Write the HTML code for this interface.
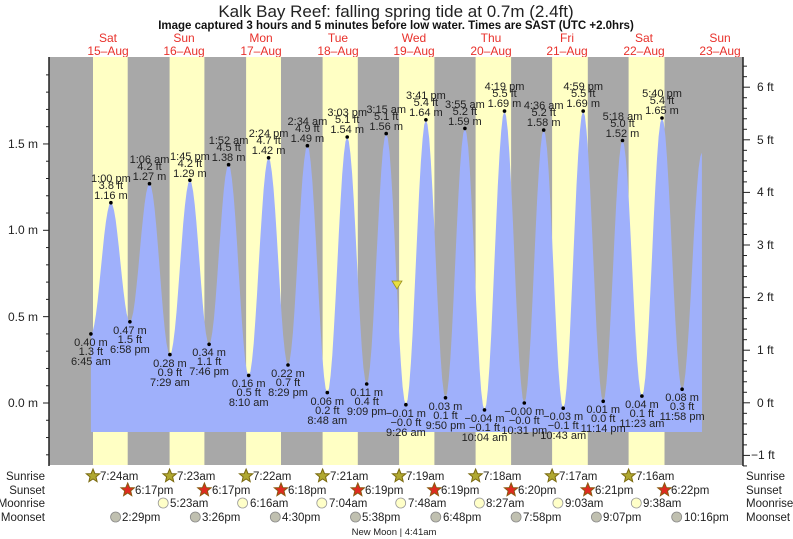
<!DOCTYPE html>
<html><head><meta charset="utf-8"><style>
html,body{margin:0;padding:0;background:#fff;}
svg{display:block;font-family:"Liberation Sans",Arial,sans-serif;}
.t{font-size:11px;fill:#222;text-anchor:middle;}
.d{font-size:12px;fill:#e8312b;text-anchor:middle;}
.a{font-size:12px;fill:#222;}
.r{font-size:11.5px;fill:#222;}
</style></head><body>
<svg id="s" width="793" height="539" viewBox="0 0 793 539" xmlns="http://www.w3.org/2000/svg">
<defs>
<polygon id="star" points="0,-7 1.9,-2.4 6.7,-2.2 3,0.9 4.1,5.7 0,3 -4.1,5.7 -3,0.9 -6.7,-2.2 -1.9,-2.4"/>
</defs>
<text x="396" y="17" style="font-size:17px;fill:#222" text-anchor="middle">Kalk Bay Reef: falling  spring tide at 0.7m (2.4ft)</text>
<text x="396" y="29" style="font-size:11.5px;font-weight:bold;fill:#111" text-anchor="middle">Image captured 3 hours and 5 minutes before low water. Times are SAST (UTC +2.0hrs)</text>
<g class="d">
<text x="108" y="42">Sat</text><text x="108" y="55">15–Aug</text>
<text x="184" y="42">Sun</text><text x="184" y="55">16–Aug</text>
<text x="261" y="42">Mon</text><text x="261" y="55">17–Aug</text>
<text x="338" y="42">Tue</text><text x="338" y="55">18–Aug</text>
<text x="414" y="42">Wed</text><text x="414" y="55">19–Aug</text>
<text x="491" y="42">Thu</text><text x="491" y="55">20–Aug</text>
<text x="567" y="42">Fri</text><text x="567" y="55">21–Aug</text>
<text x="644" y="42">Sat</text><text x="644" y="55">22–Aug</text>
<text x="720" y="42">Sun</text><text x="720" y="55">23–Aug</text>
</g>
<rect x="49" y="57" width="694" height="408" fill="#a8a8a8"/>
<g fill="#ffffc4">
<rect x="93" y="57" width="34.7" height="408"/>
<rect x="169.6" y="57" width="34.8" height="408"/>
<rect x="246.1" y="57" width="34.9" height="408"/>
<rect x="322.6" y="57" width="35.2" height="408"/>
<rect x="399.1" y="57" width="35.3" height="408"/>
<rect x="475.6" y="57" width="35.5" height="408"/>
<rect x="552.1" y="57" width="35.7" height="408"/>
<rect x="628.6" y="57" width="35.9" height="408"/>
</g>
<path id="tide" fill="#9fb0fb" d=""/>
<polygon points="392,281 402,281 397,289" fill="#e8e040" stroke="#9a9020" stroke-width="0.8"/>
<line x1="49" y1="57" x2="49" y2="466" stroke="#222" stroke-width="1.5"/>
<line x1="743" y1="57" x2="743" y2="466" stroke="#222" stroke-width="1.5"/>
<g id="ticks" stroke="#222" stroke-width="1"></g>
<g class="a" text-anchor="end">
<text x="38" y="148">1.5 m</text><text x="38" y="234">1.0 m</text><text x="38" y="321">0.5 m</text><text x="38" y="407">0.0 m</text>
</g>
<g class="a">
<text x="757" y="91">6 ft</text><text x="757" y="144">5 ft</text><text x="757" y="196">4 ft</text><text x="757" y="249">3 ft</text><text x="757" y="301">2 ft</text><text x="757" y="354">1 ft</text><text x="757" y="407">0 ft</text><text x="751" y="459">−1 ft</text>
</g>
<g id="dots" fill="#000"></g>
<g class="t">
<text x="110.9" y="182">1:00 pm</text><text x="110.9" y="189">3.8 ft</text><text x="110.9" y="199">1.16 m</text>
<text x="149.5" y="163">1:06 am</text><text x="149.5" y="170">4.2 ft</text><text x="149.5" y="180">1.27 m</text>
<text x="189.9" y="160">1:45 pm</text><text x="189.9" y="167">4.2 ft</text><text x="189.9" y="177">1.29 m</text>
<text x="228.6" y="144">1:52 am</text><text x="228.6" y="151">4.5 ft</text><text x="228.6" y="161">1.38 m</text>
<text x="268.6" y="137">2:24 pm</text><text x="268.6" y="144">4.7 ft</text><text x="268.6" y="154">1.42 m</text>
<text x="307.4" y="125">2:34 am</text><text x="307.4" y="132">4.9 ft</text><text x="307.4" y="142">1.49 m</text>
<text x="347.2" y="116">3:03 pm</text><text x="347.2" y="123">5.1 ft</text><text x="347.2" y="133">1.54 m</text>
<text x="386.2" y="113">3:15 am</text><text x="386.2" y="120">5.1 ft</text><text x="386.2" y="130">1.56 m</text>
<text x="425.9" y="99">3:41 pm</text><text x="425.9" y="106">5.4 ft</text><text x="425.9" y="116">1.64 m</text>
<text x="464.9" y="108">3:55 am</text><text x="464.9" y="115">5.2 ft</text><text x="464.9" y="125">1.59 m</text>
<text x="504.5" y="90">4:19 pm</text><text x="504.5" y="97">5.5 ft</text><text x="504.5" y="107">1.69 m</text>
<text x="543.7" y="109">4:36 am</text><text x="543.7" y="116">5.2 ft</text><text x="543.7" y="126">1.58 m</text>
<text x="583.2" y="90">4:59 pm</text><text x="583.2" y="97">5.5 ft</text><text x="583.2" y="107">1.69 m</text>
<text x="622.5" y="120">5:18 am</text><text x="622.5" y="127">5.0 ft</text><text x="622.5" y="137">1.52 m</text>
<text x="662" y="97">5:40 pm</text><text x="662" y="104">5.4 ft</text><text x="662" y="114">1.65 m</text>

<text x="90.9" y="346">0.40 m</text><text x="90.9" y="355">1.3 ft</text><text x="90.9" y="365">6:45 am</text>
<text x="129.9" y="334">0.47 m</text><text x="129.9" y="343">1.5 ft</text><text x="129.9" y="353">6:58 pm</text>
<text x="169.9" y="367">0.28 m</text><text x="169.9" y="376">0.9 ft</text><text x="169.9" y="386">7:29 am</text>
<text x="209.1" y="356">0.34 m</text><text x="209.1" y="365">1.1 ft</text><text x="209.1" y="375">7:46 pm</text>
<text x="248.7" y="387">0.16 m</text><text x="248.7" y="396">0.5 ft</text><text x="248.7" y="406">8:10 am</text>
<text x="288" y="377">0.22 m</text><text x="288" y="386">0.7 ft</text><text x="288" y="396">8:29 pm</text>
<text x="327.3" y="405">0.06 m</text><text x="327.3" y="414">0.2 ft</text><text x="327.3" y="424">8:48 am</text>
<text x="366.7" y="396">0.11 m</text><text x="366.7" y="405">0.4 ft</text><text x="366.7" y="415">9:09 pm</text>
<text x="405.9" y="417">−0.01 m</text><text x="405.9" y="426">−0.0 ft</text><text x="405.9" y="436">9:26 am</text>
<text x="445.5" y="410">0.03 m</text><text x="445.5" y="419">0.1 ft</text><text x="445.5" y="429">9:50 pm</text>
<text x="484.5" y="422">−0.04 m</text><text x="484.5" y="431">−0.1 ft</text><text x="484.5" y="441">10:04 am</text>
<text x="524.3" y="415">−0.00 m</text><text x="524.3" y="424">−0.0 ft</text><text x="524.3" y="434">10:31 pm</text>
<text x="563.2" y="420">−0.03 m</text><text x="563.2" y="429">−0.1 ft</text><text x="563.2" y="439">10:43 am</text>
<text x="603.2" y="413">0.01 m</text><text x="603.2" y="422">0.0 ft</text><text x="603.2" y="432">11:14 pm</text>
<text x="641.9" y="408">0.04 m</text><text x="641.9" y="417">0.1 ft</text><text x="641.9" y="427">11:23 am</text>
<text x="682.1" y="401">0.08 m</text><text x="682.1" y="410">0.3 ft</text><text x="682.1" y="420">11:58 pm</text>
</g>
<g class="r" text-anchor="end">
<text x="45" y="480">Sunrise</text><text x="45" y="494">Sunset</text><text x="45" y="507">Moonrise</text><text x="45" y="521">Moonset</text>
</g>
<g class="r">
<text x="746" y="480">Sunrise</text><text x="746" y="494">Sunset</text><text x="746" y="507">Moonrise</text><text x="746" y="521">Moonset</text>
</g>
<g id="icons"></g>
<g class="r">
<text x="100" y="480">7:24am</text><text x="177" y="480">7:23am</text><text x="253" y="480">7:22am</text><text x="330" y="480">7:21am</text><text x="406" y="480">7:19am</text><text x="483" y="480">7:18am</text><text x="559" y="480">7:17am</text><text x="636" y="480">7:16am</text>
<text x="135" y="494">6:17pm</text><text x="212" y="494">6:17pm</text><text x="288" y="494">6:18pm</text><text x="365" y="494">6:19pm</text><text x="441" y="494">6:19pm</text><text x="518" y="494">6:20pm</text><text x="595" y="494">6:21pm</text><text x="671" y="494">6:22pm</text>
<text x="170" y="507">5:23am</text><text x="250" y="507">6:16am</text><text x="329" y="507">7:04am</text><text x="408" y="507">7:48am</text><text x="486" y="507">8:27am</text><text x="565" y="507">9:03am</text><text x="643" y="507">9:38am</text>
<text x="122" y="521">2:29pm</text><text x="202" y="521">3:26pm</text><text x="282" y="521">4:30pm</text><text x="362" y="521">5:38pm</text><text x="443" y="521">6:48pm</text><text x="523" y="521">7:58pm</text><text x="603" y="521">9:07pm</text><text x="684" y="521">10:16pm</text>
</g>
<text x="394" y="535" style="font-size:9.5px;fill:#222" text-anchor="middle">New Moon | 4:41am</text>
</svg>
<script>
var ext=[[90.9,333.9],[110.9,202.7],[129.9,321.8],[149.5,183.7],[169.9,354.6],[189.9,180.2],[209.1,344.3],[228.6,164.7],[248.7,375.4],[268.6,157.8],[288,365],[307.4,145.7],[327.3,392.6],[347.2,137],[366.7,384],[386.2,133.6],[405.9,404.7],[425.9,119.8],[445.5,397.8],[464.9,128.4],[484.5,409.9],[504.5,111.1],[524.3,403],[543.7,130.1],[563.2,408.2],[583.2,111.1],[603.2,401.3],[622.5,140.5],[641.9,396.1],[662,118],[682.1,389.2],[701.9,152.6]];
var d="M90.9,432 L90.9,333.9";
for(var i=0;i<ext.length-1;i++){var a=ext[i],b=ext[i+1];for(var k=1;k<=12;k++){var t=k/12;var y=a[1]+(b[1]-a[1])*(1-Math.cos(Math.PI*t))/2;d+=" L"+(a[0]+(b[0]-a[0])*t).toFixed(1)+","+y.toFixed(1);}}
d+=" L702,432 Z";document.getElementById("tide").setAttribute("d",d);
var NS="http://www.w3.org/2000/svg";
function el(p,n,at){var e=document.createElementNS(NS,n);for(var k in at)e.setAttribute(k,at[k]);p.appendChild(e);return e;}
var dots=document.getElementById("dots");
for(var i=0;i<ext.length-1;i++)el(dots,"circle",{cx:ext[i][0],cy:ext[i][1],r:1.8});
var tk=document.getElementById("ticks");
for(var m=-0.3;m<=2.0;m+=0.1){var y=403-172.7*m;if(y<57||y>466)continue;var maj=Math.abs(Math.round(m*10)%5)==0;el(tk,"line",{x1:maj?43:46,y1:y,x2:49,y2:y});}
for(var f=-1.2;f<=6.6;f+=0.2){var y=402.8-52.6*f;if(y<57||y>466)continue;var maj=Math.abs(Math.round(f*10)%10)==0;el(tk,"line",{x1:743,y1:y,x2:maj?750:747,y2:y});}
var ic=document.getElementById("icons");
[93,169.6,246.1,322.6,399.1,475.6,552.1,628.6].forEach(function(x){el(ic,"use",{href:"#star",x:x,y:476,fill:"#b0a830",stroke:"#7a6a10","stroke-width":"1"});});
[127.7,204.4,281,357.8,434.4,511.1,587.8,664.5].forEach(function(x){el(ic,"use",{href:"#star",x:x,y:490,fill:"#e02a20",stroke:"#8a5a10","stroke-width":"1"});});
[163.2,242.6,321.8,400.7,479.4,557.9,636.3].forEach(function(x){el(ic,"circle",{cx:x,cy:503,r:5,fill:"#ffffc8",stroke:"#999","stroke-width":"0.8"});});
[115.6,195.3,275.3,355.5,435.8,516.1,596.4,676.7].forEach(function(x){el(ic,"circle",{cx:x,cy:517,r:5,fill:"#c0c0b0",stroke:"#888","stroke-width":"0.8"});});
</script>
</body></html>
